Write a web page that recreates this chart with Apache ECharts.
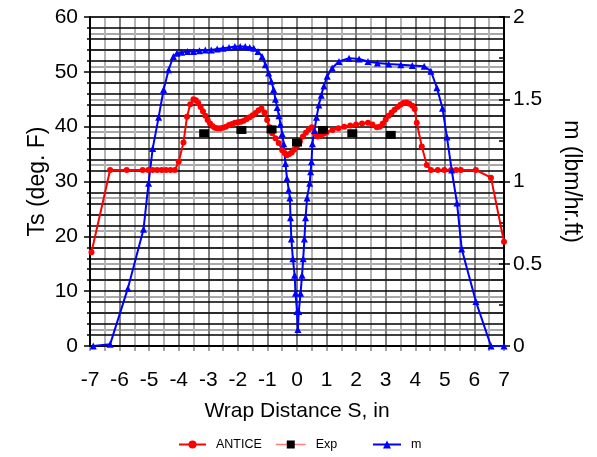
<!DOCTYPE html>
<html>
<head>
<meta charset="utf-8">
<script src="https://cdn.jsdelivr.net/npm/echarts@6/dist/echarts.min.js"></script>
<style>html,body{margin:0;padding:0;background:#fff}#c{width:597px;height:457px}</style>
</head>
<body>
<div id="c"></div>
<script>
// Wrap distance S (in), surface temperature Ts (deg F)
const anticeS = [-6.95,-6.32,-5.76,-5.22,-5.03,-4.88,-4.73,-4.58,-4.43,-4.28,-4.13,-4.0,-3.84,-3.72,-3.61,-3.5,-3.42,-3.34,-3.26,-3.18,-3.1,-3.02,-2.94,-2.86,-2.78,-2.7,-2.6,-2.5,-2.4,-2.3,-2.2,-2.1,-2.0,-1.9,-1.8,-1.7,-1.6,-1.5,-1.4,-1.3,-1.2,-1.1,-1.01,-0.92,-0.84,-0.73,-0.62,-0.5,-0.42,-0.34,-0.26,-0.18,-0.1,0.0,0.1,0.2,0.3,0.4,0.5,0.6,0.7,0.8,0.9,1.0,1.2,1.4,1.6,1.8,2.0,2.2,2.4,2.55,2.7,2.8,2.9,3.0,3.1,3.2,3.3,3.4,3.5,3.6,3.7,3.8,3.9,3.98,4.05,4.22,4.39,4.53,4.76,4.98,5.21,5.38,5.54,6.05,6.56,7.0];
const anticeTs = [17.1,32.1,32.1,32.1,32.1,32.1,32.1,32.1,32.1,32.1,32.1,33.6,37.1,41.8,44.1,45.0,44.8,44.3,43.6,42.8,42.0,41.2,40.6,40.1,39.8,39.7,39.7,39.8,40.0,40.3,40.5,40.7,40.8,40.9,41.1,41.4,41.7,42.1,42.5,43.0,43.3,42.6,41.2,39.9,38.8,37.9,37.0,35.7,35.2,34.8,35.0,35.3,35.8,36.5,37.3,38.2,38.9,39.5,39.9,38.8,38.2,38.4,38.7,39.0,39.4,39.7,40.0,40.2,40.4,40.6,40.7,40.4,39.9,40.0,40.6,41.3,42.0,42.6,43.1,43.6,44.0,44.3,44.4,44.2,43.8,43.2,40.7,36.4,33.0,32.1,32.1,32.1,32.1,32.1,32.1,32.1,30.7,19.0];
// Experimental points
const expS = [-3.14,-1.88,-0.86,0.0,0.88,1.87,3.17];
const expTs = [38.8,39.4,39.5,37.1,39.4,38.8,38.5];
// m (lbm/hr.ft)
const mS = [-6.89,-6.32,-5.72,-5.19,-5.02,-4.88,-4.68,-4.51,-4.34,-4.18,-4.06,-3.9,-3.7,-3.5,-3.3,-3.1,-2.9,-2.7,-2.5,-2.3,-2.1,-1.92,-1.75,-1.6,-1.46,-1.32,-1.18,-1.07,-0.96,-0.87,-0.79,-0.73,-0.67,-0.61,-0.56,-0.5,-0.45,-0.39,-0.34,-0.28,-0.24,-0.22,-0.19,-0.14,-0.08,-0.05,0.0,0.03,0.06,0.12,0.17,0.21,0.25,0.29,0.34,0.43,0.46,0.49,0.52,0.59,0.66,0.74,0.82,0.91,1.02,1.19,1.42,1.76,2.1,2.4,2.72,3.1,3.51,3.9,4.3,4.53,4.73,4.92,5.07,5.23,5.41,5.57,6.05,6.56,7.0];
const mVal = [0,0.01,0.35,0.71,0.99,1.2,1.39,1.56,1.68,1.76,1.78,1.785,1.79,1.79,1.795,1.8,1.8,1.805,1.81,1.815,1.82,1.82,1.82,1.815,1.81,1.79,1.76,1.71,1.66,1.61,1.56,1.5,1.45,1.4,1.35,1.29,1.23,1.11,1.02,0.95,0.9,0.78,0.65,0.53,0.43,0.32,0.21,0.1,0.21,0.32,0.43,0.53,0.65,0.78,0.9,0.99,1.06,1.12,1.23,1.31,1.39,1.465,1.525,1.58,1.64,1.69,1.73,1.75,1.745,1.73,1.72,1.715,1.71,1.705,1.7,1.67,1.57,1.445,1.27,1.07,0.87,0.59,0.27,0,0];
const xTicks = [-7,-6,-5,-4,-3,-2,-1,0,1,2,3,4,5,6,7];

const FF = 'Liberation Sans, Arial, sans-serif';
const zip = (a,b)=>a.map((v,i)=>[v,b[i]]);
const legTxt = {fontSize:12.5,fontFamily:FF,color:'#000',padding:[0,0,0,5]};

const chart = echarts.init(document.getElementById('c'));
chart.setOption({
  animation:false,
  backgroundColor:'#fff',
  grid:{left:90,right:93,top:17,bottom:111,containLabel:false},
  xAxis:{
    type:'value',min:-7,max:7,interval:1,
    name:'Wrap Distance S, in',nameLocation:'middle',nameGap:55,nameMoveOverlap:false,
    nameTextStyle:{fontSize:21,fontFamily:FF,color:'#000'},
    axisLine:{onZero:false,lineStyle:{color:'#000',width:2}},
    axisTick:{show:true,length:5,lineStyle:{color:'#888',width:1.5}},
    minorTick:{show:true,splitNumber:2,length:5,lineStyle:{color:'#888',width:1.5}},
    axisLabel:{fontSize:21,fontFamily:FF,color:'#000',margin:24,
      formatter:v=>xTicks.includes(v)?String(v):''},
    splitLine:{show:true,lineStyle:{color:'#7f7f7f',width:2}},
    minorSplitLine:{show:true,lineStyle:{color:'#b4b4b4',width:2}}
  },
  yAxis:[{
    type:'value',min:0,max:60,interval:10,position:'left',
    name:'Ts (deg. F)',nameLocation:'middle',nameGap:41,nameMoveOverlap:false,
    nameTextStyle:{fontSize:23,fontFamily:FF,color:'#000'},
    axisLine:{show:true,onZero:false,lineStyle:{color:'#000',width:2}},
    axisTick:{show:true,length:6,lineStyle:{color:'#000',width:1.5}},
    minorTick:{show:true,splitNumber:5,length:3,lineStyle:{color:'#000',width:1.5}},
    axisLabel:{fontSize:21,fontFamily:FF,color:'#000',margin:12},
    splitLine:{show:true,lineStyle:{color:'#000',width:1.5}},
    minorSplitLine:{show:true,lineStyle:{color:'#000',width:1.5}},
    z:3
  },{
    type:'value',min:0,max:2,interval:0.5,position:'right',
    name:'m (lbm/hr.ft)',nameLocation:'middle',nameGap:56,nameRotate:-90,nameMoveOverlap:false,
    nameTextStyle:{fontSize:23,fontFamily:FF,color:'#000'},
    axisLine:{show:true,onZero:false,lineStyle:{color:'#000',width:2}},
    axisTick:{show:true,length:6,lineStyle:{color:'#000',width:1.5}},
    minorTick:{show:false,splitNumber:5},
    axisLabel:{fontSize:21,fontFamily:FF,color:'#000',margin:9},
    splitLine:{show:true,lineStyle:{color:'#8c8c8c',width:1.5}},
    minorSplitLine:{show:true,lineStyle:{color:'#8c8c8c',width:1.5}}
  },{
    type:'value',min:0,max:2,interval:0.25,position:'right',
    axisLine:{show:false,onZero:false},
    axisTick:{show:true,inside:true,length:5,lineStyle:{color:'#000',width:1.5}},
    axisLabel:{show:false},splitLine:{show:false}
  }],
  legend:[
    {left:173,top:433,itemWidth:27,itemHeight:10,textStyle:legTxt,data:[{name:'ANTICE'}]},
    {left:270,top:433,itemWidth:30,itemHeight:10,textStyle:legTxt,
      data:[{name:'Exp',lineStyle:{color:'#ff8080',width:1.5,opacity:1}}]},
    {left:367,top:433,itemWidth:28,itemHeight:10,textStyle:legTxt,data:[{name:'m'}]}
  ],
  series:[{
    name:'ANTICE',type:'line',yAxisIndex:0,data:zip(anticeS,anticeTs),
    symbol:'circle',symbolSize:6,color:'#ff0000',
    lineStyle:{width:2,color:'#ff0000'},itemStyle:{color:'#ff0000'},z:4
  },{
    name:'Exp',type:'line',yAxisIndex:0,data:zip(expS,expTs),
    symbol:'rect',symbolSize:[10,8],color:'#000',
    lineStyle:{width:0,opacity:0},itemStyle:{color:'#000'},z:5
  },{
    name:'m',type:'line',yAxisIndex:1,data:zip(mS,mVal),
    symbol:'triangle',symbolSize:7,color:'#0000ff',
    lineStyle:{width:2,color:'#0000ff'},itemStyle:{color:'#0000ff'},z:4
  }]
});
</script>
</body>
</html>
